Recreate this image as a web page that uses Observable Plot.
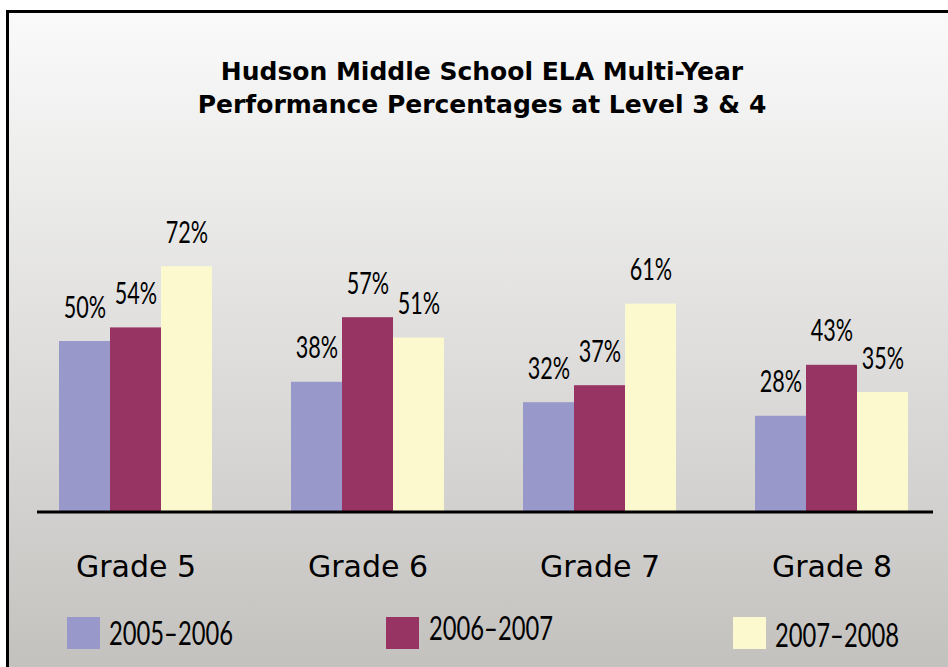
<!DOCTYPE html>
<html>
<head>
<meta charset="utf-8">
<script src="https://cdn.jsdelivr.net/npm/d3@7"></script>
<script src="https://cdn.jsdelivr.net/npm/@observablehq/plot@0.6"></script>
<style>
  html, body { margin: 0; padding: 0; background: #fff; width: 948px; height: 667px; overflow: hidden; }
  #frame { position: absolute; left: 6px; top: 10px; width: 960px; height: 680px;
    border-left: 3px solid #000; border-top: 3px solid #000;
    background: linear-gradient(to bottom, #fafafa 0px, #d2d1cf 490px, #c3c1be 657px); }
  #chart { position: absolute; left: 0; top: 0; }
  #chart svg { background: transparent; overflow: visible; }
  .title { position: absolute; left: 0; width: 964px; text-align: center; font-family: "DejaVu Sans", sans-serif;
    font-weight: bold; font-size: 25px; color: #000; line-height: 33px; top: 55px; }
  .leg { position: absolute; font-family: Lato, "DejaVu Sans", sans-serif; font-size: 33px; color: #000;
    transform: scaleX(0.72); transform-origin: 0 50%; white-space: nowrap; }
  .sw { position: absolute; width: 33px; height: 32px; }
</style>
</head>
<body>
<div id="frame"></div>
<div class="title" id="title"></div>
<div id="chart"></div>
<div id="legend"></div>
<script>
const grades = ["Grade 5", "Grade 6", "Grade 7", "Grade 8"];
const years = ["2005–2006", "2006–2007", "2007–2008"];
const colors = ["#9898ca", "#983463", "#fcf9cf"];
const v2005 = [50, 38, 32, 28];
const v2006 = [54, 57, 37, 43];
const v2007 = [72, 51, 61, 35];
const titleLines = ["Hudson Middle School ELA Multi-Year", "Performance Percentages at Level 3 &amp; 4"];

const series = [v2005, v2006, v2007];
const data = [];
grades.forEach((g, i) => years.forEach((yr, k) => data.push({grade: g, year: yr, value: series[k][i]})));

document.getElementById("title").innerHTML = titleLines.join("<br>");

const chart = Plot.plot({
  width: 948,
  height: 600,
  marginTop: 171,
  marginBottom: 89,
  marginLeft: 57,
  marginRight: 37,
  style: {background: "transparent", overflow: "visible"},
  fx: {domain: grades, paddingInner: 0.33, paddingOuter: 0},
  x: {domain: years, padding: 0, axis: null},
  y: {domain: [0, 100], axis: null},
  color: {domain: years, range: colors},
  marks: [
    Plot.barY(data, {fx: "grade", x: "year", y: "value", fill: "year"}),
    Plot.text(data, {fx: "grade", x: "year", y: "value", text: d => d.value + "%",
      dy: -24, lineAnchor: "middle", fontSize: 30, fill: "#000", className: "vlabel",
      fontFamily: "Lato, 'DejaVu Sans', sans-serif"}),
    Plot.axisFx({anchor: "bottom", tickSize: 0, tickPadding: 44, fontSize: 30, label: null,
      fontFamily: "'DejaVu Sans', sans-serif", color: "#000"})
  ]
});
document.getElementById("chart").appendChild(chart);

// condense the value labels horizontally (narrow face look)
d3.select(chart).selectAll(".vlabel text").each(function() {
  const t = d3.select(this);
  const x = +t.attr("x") || 0, y = +t.attr("y") || 0;
  const prev = t.attr("transform") || "";
  t.attr("x", null).attr("y", null)
   .attr("transform", `${prev} translate(${x},${y}) scale(0.72,1)`);
});

// baseline across all groups, positioned through Plot's y scale
const y0 = chart.scale("y").apply(0);
d3.select(chart).append("line")
  .attr("x1", 37).attr("x2", 933).attr("y1", y0 + 1).attr("y2", y0 + 1)
  .attr("stroke", "#000").attr("stroke-width", 3);

// legend
const legPos = [{sx: 67, tx: 109, ty: 612}, {sx: 386, tx: 429, ty: 607}, {sx: 733, tx: 775, ty: 614}];
const legend = document.getElementById("legend");
years.forEach((yr, k) => {
  const sw = document.createElement("div");
  sw.className = "sw";
  sw.style.left = legPos[k].sx + "px";
  sw.style.top = "617px";
  sw.style.background = colors[k];
  legend.appendChild(sw);
  const t = document.createElement("div");
  t.className = "leg";
  t.style.left = legPos[k].tx + "px";
  t.style.top = legPos[k].ty + "px";
  t.textContent = yr;
  legend.appendChild(t);
});
</script>
</body>
</html>
